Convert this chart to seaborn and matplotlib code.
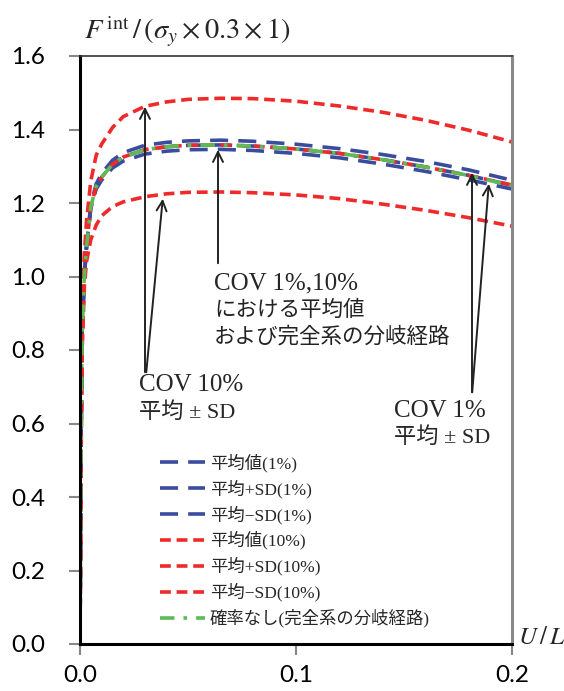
import matplotlib
matplotlib.use("Agg")
import matplotlib.pyplot as plt
import seaborn as sns
import pandas as pd
import numpy as np

# ---- data ----
x_vals = [0, 0.0005, 0.001, 0.002, 0.003, 0.005, 0.0075, 0.01, 0.015, 0.02, 0.03,
          0.04, 0.05, 0.065, 0.08, 0.1, 0.12, 0.14, 0.16, 0.18, 0.2]
mean_1 = [0, 0.55, 0.85, 1.0, 1.08, 1.19, 1.245, 1.27, 1.305, 1.325, 1.345,
          1.353, 1.357, 1.358, 1.355, 1.347, 1.335, 1.318, 1.298, 1.275, 1.248]
plus_1 = [0, 0.55, 0.85, 1.0, 1.085, 1.195, 1.252, 1.28, 1.316, 1.337, 1.357,
          1.365, 1.369, 1.371, 1.368, 1.36, 1.348, 1.332, 1.313, 1.29, 1.262]
minus_1 = [0, 0.55, 0.85, 1.0, 1.075, 1.185, 1.238, 1.262, 1.295, 1.314, 1.333,
           1.341, 1.345, 1.346, 1.343, 1.335, 1.323, 1.306, 1.286, 1.263, 1.238]
mean_10 = [0, 0.55, 0.85, 1.0, 1.08, 1.19, 1.245, 1.27, 1.305, 1.325, 1.345,
           1.353, 1.357, 1.358, 1.355, 1.347, 1.335, 1.318, 1.298, 1.275, 1.249]
plus_10 = [0, 0.6, 0.9, 1.06, 1.15, 1.26, 1.33, 1.36, 1.405, 1.435, 1.463,
           1.475, 1.482, 1.485, 1.484, 1.477, 1.464, 1.447, 1.425, 1.398, 1.366]
minus_10 = [0, 0.5, 0.8, 0.97, 1.04, 1.1, 1.14, 1.165, 1.19, 1.203, 1.217,
            1.225, 1.229, 1.23, 1.228, 1.222, 1.212, 1.197, 1.18, 1.16, 1.137]
perfect = [0, 0.55, 0.85, 1.0, 1.08, 1.19, 1.245, 1.27, 1.305, 1.325, 1.345,
           1.353, 1.357, 1.358, 1.355, 1.347, 1.335, 1.318, 1.298, 1.275, 1.247]

labels = ["平均値(1%)", "平均+SD(1%)", "平均−SD(1%)", "平均値(10%)",
          "平均+SD(10%)", "平均−SD(10%)", "確率なし(完全系の分岐経路)"]
x_ticks = [0.0, 0.1, 0.2]
y_ticks = [0.0, 0.2, 0.4, 0.6, 0.8, 1.0, 1.2, 1.4, 1.6]

series = [mean_1, plus_1, minus_1, mean_10, plus_10, minus_10, perfect]
df = pd.concat([pd.DataFrame({"x": x_vals, "y": s, "series": lab})
                for s, lab in zip(series, labels)], ignore_index=True)

sns.set_theme(style="white")
plt.rcParams['font.family'] = ['Lato', 'Noto Sans CJK JP', 'DejaVu Sans']
plt.rcParams['mathtext.fontset'] = 'stix'

fig = plt.figure(figsize=(5.64, 6.91), dpi=100)
ax = fig.add_axes([80/564, 1-644/691, 432/564, 588/691])

blue = "#3a4c9e"
red = "#ee2a2a"
green = "#5cbb55"
palette = {labels[0]: blue, labels[1]: blue, labels[2]: blue,
           labels[3]: red, labels[4]: red, labels[5]: red, labels[6]: green}
dashes = {labels[0]: (5, 2.8), labels[1]: (5, 2.8), labels[2]: (5, 2.8),
          labels[3]: (3, 1.6), labels[4]: (3, 1.6), labels[5]: (3, 1.6),
          labels[6]: (4, 2.5, 1, 2.5)}
sns.lineplot(data=df, x="x", y="y", hue="series", style="series",
             palette=palette, dashes=dashes, hue_order=labels, style_order=labels,
             linewidth=2.6, ax=ax, sort=False, estimator=None)

ax.set_xlim(0, 0.2)
ax.set_ylim(0, 1.6)
ax.set_xticks(x_ticks)
ax.set_yticks(y_ticks)
ax.set_xticklabels([f"{v:.1f}" for v in x_ticks])
ax.set_yticklabels([f"{v:.1f}" for v in y_ticks])
ax.tick_params(axis='both', labelsize=17.5, direction='out', length=8, width=1.5,
               color='#888888', labelcolor='black', left=True, bottom=True)
ax.tick_params(axis='y', pad=17)
ax.tick_params(axis='x', pad=7)
ax.set_xlabel("")
ax.set_ylabel("")
for side in ["left", "bottom"]:
    ax.spines[side].set_color("black")
    ax.spines[side].set_linewidth(2.2)
ax.spines["top"].set_color("#333333")
ax.spines["top"].set_linewidth(1.2)
ax.spines["right"].set_color("#888888")
ax.spines["right"].set_linewidth(2.2)
for s in ax.spines.values():
    s.set_visible(True)

serif = ['Liberation Serif', 'Noto Sans CJK JP']
leg = ax.legend(loc="lower left", bbox_to_anchor=(0.16, 0.01), frameon=False,
                handlelength=2.6, handletextpad=0.3,
                labelspacing=0.42, borderaxespad=0.2,
                prop={'family': serif, 'size': 12.5})

arrow_kw = dict(arrowstyle="->", color="#222222", lw=1.4, mutation_scale=18)

def px(xp, yp):
    return ((xp - 80) / 432 * 0.2, (644 - yp) / 367.5)

# COV 1%,10% annotation
ax.annotate("", xy=px(218, 147), xytext=px(218, 266), arrowprops=arrow_kw)
ax.text(*px(214, 283), "COV 1%,10%", family=serif, fontsize=18, va='center', ha='left')
ax.text(*px(214, 311), "における平均値", family=serif, fontsize=15.5, va='center', ha='left', color='#222222')
ax.text(*px(214, 337), "および完全系の分岐経路", family=serif, fontsize=15.5, va='center', ha='left', color='#222222')

# COV 10% annotation
ax.annotate("", xy=px(145, 104), xytext=px(145, 375), arrowprops=arrow_kw)
ax.annotate("", xy=px(163, 196), xytext=px(146, 375), arrowprops=arrow_kw)
ax.text(*px(139, 385), "COV 10%", family=serif, fontsize=18, va='center', ha='left')
ax.text(*px(139, 413), "平均 ± SD", family=serif, fontsize=16, va='center', ha='left')

# COV 1% annotation
ax.annotate("", xy=px(472, 170), xytext=px(472, 395), arrowprops=arrow_kw)
ax.annotate("", xy=px(489, 181), xytext=px(472, 395), arrowprops=arrow_kw)
ax.text(*px(394, 411), "COV 1%", family=serif, fontsize=18, va='center', ha='left')
ax.text(*px(394, 438), "平均 ± SD", family=serif, fontsize=16, va='center', ha='left')

# axis titles
fig.text(84/564, 1-32/691, r"$F^{\,\mathrm{int}}\,/\,(\sigma_{y}\times 0.3\times 1)$",
         fontsize=20.5, ha='left', va='center')
fig.text(518/564, 1-636/691, r"$U\,/\,L$", fontsize=18, ha='left', va='center')

fig.savefig("out.png", dpi=100)
